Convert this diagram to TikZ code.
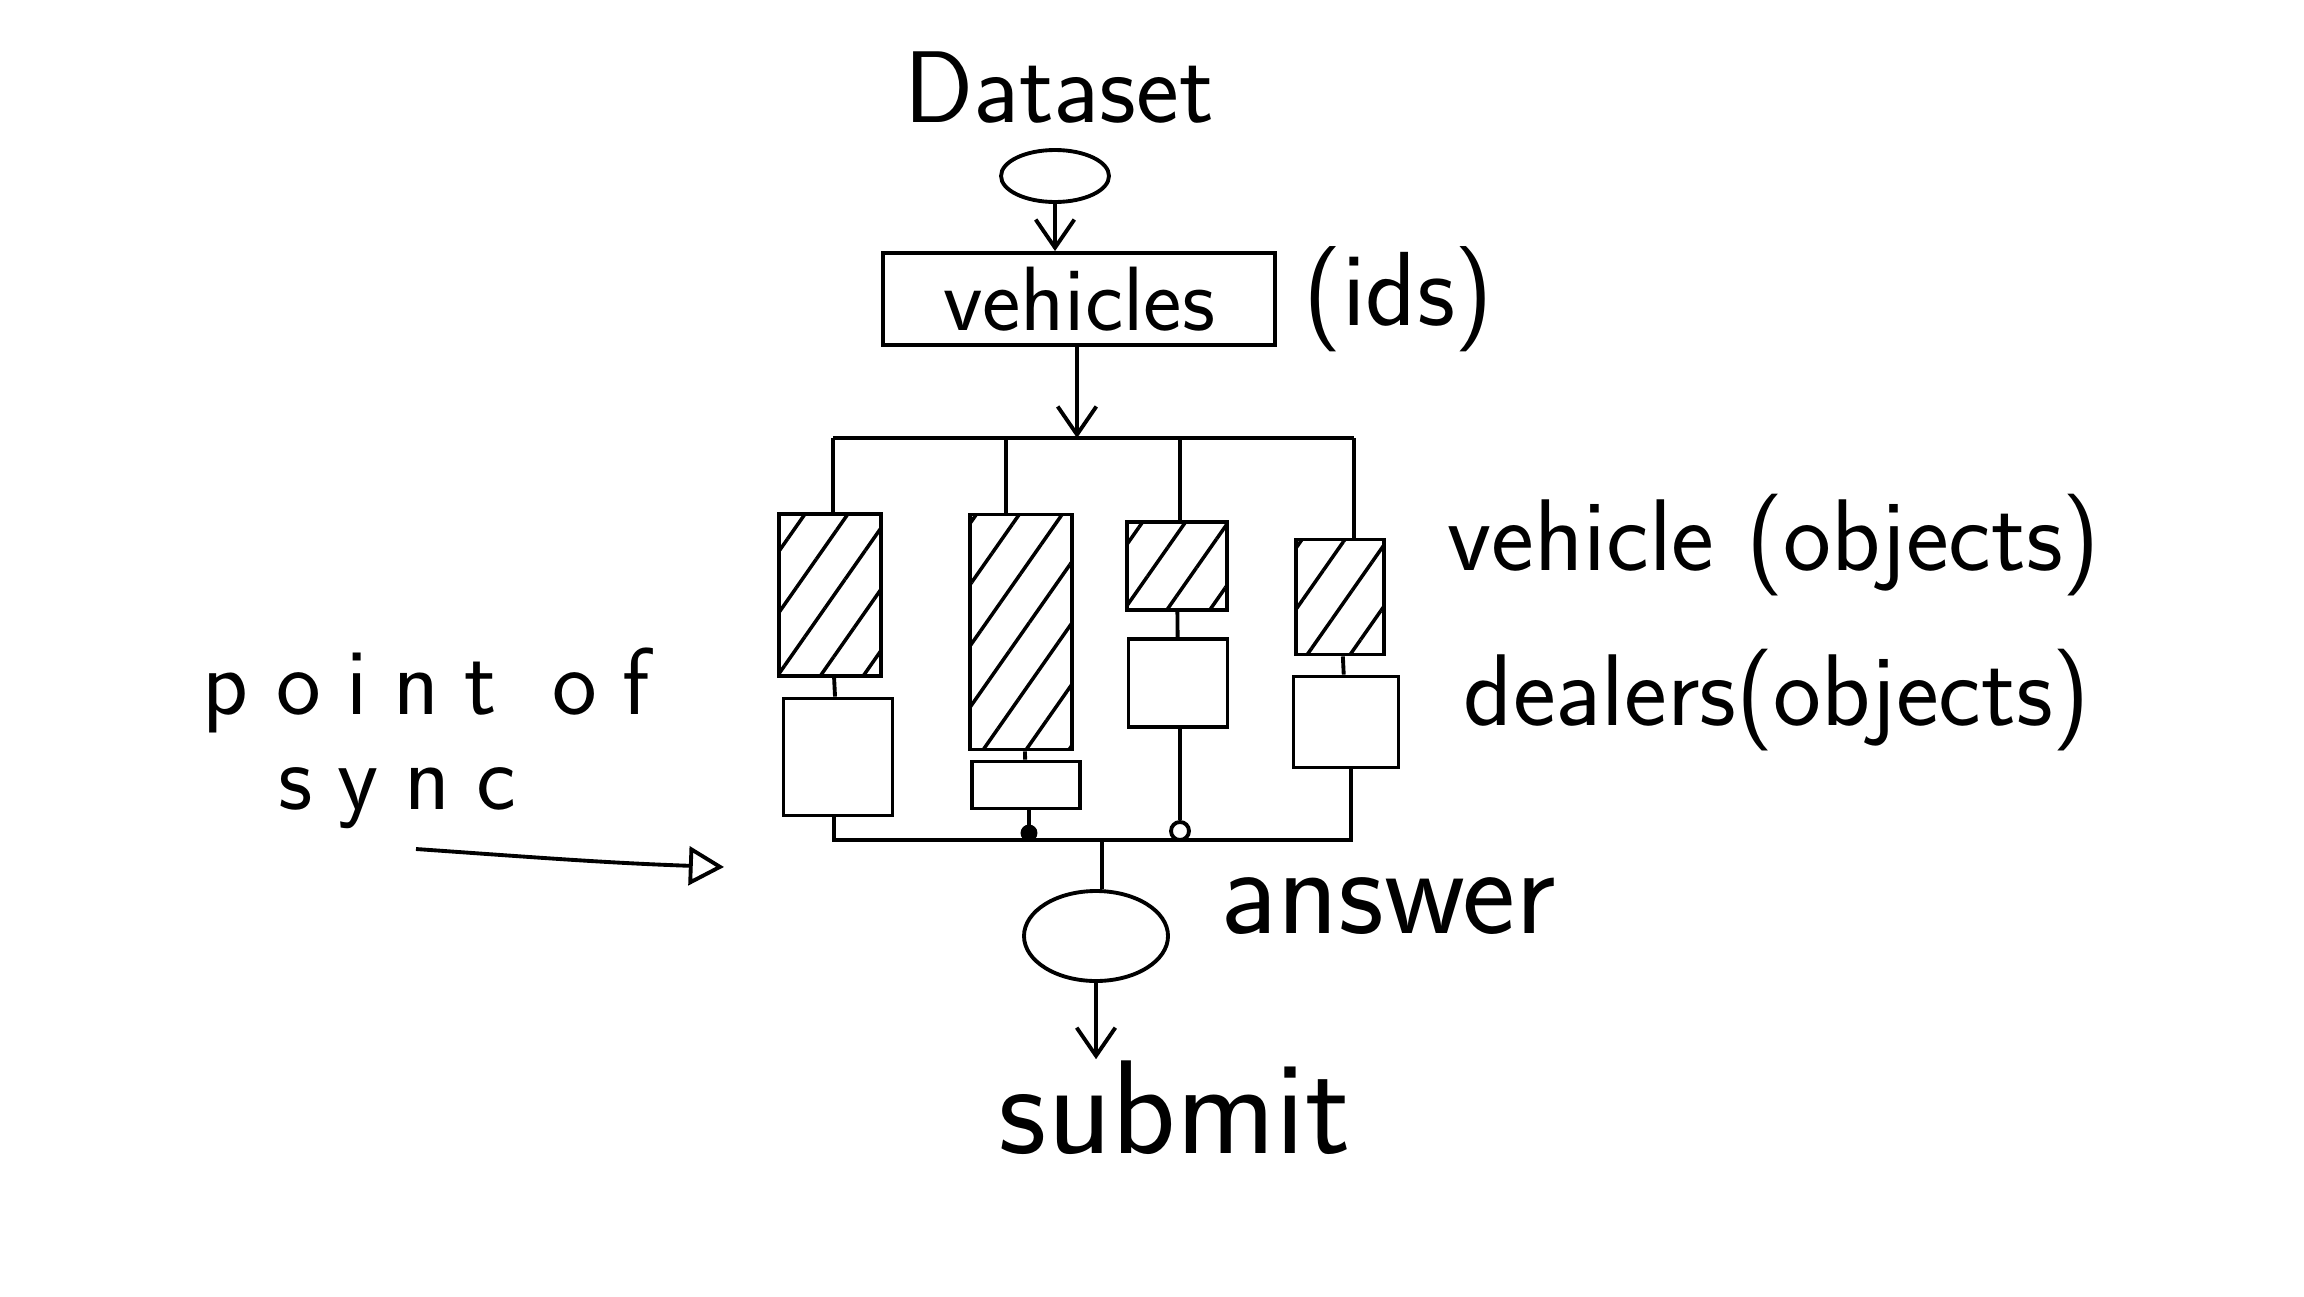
\documentclass[tikz,border=0pt]{standalone}
\usepackage{fontspec}
\usepackage{tikz}
\usetikzlibrary{positioning,shapes.geometric,patterns.meta,arrows.meta,calc}
\tikzstyle{oval}=[ellipse, draw, inner sep=0pt]
\tikzstyle{vbox}=[rectangle, draw, inner sep=0pt, pattern={Lines[angle=55,distance=10pt,line width=1pt]}]
\tikzstyle{dbox}=[rectangle, draw, inner sep=0pt]
\tikzstyle{knot}=[circle, draw, inner sep=0pt]
\newfontfamily\widesans[LetterSpace=27]{Latin Modern Sans}
\tikzset{hand/.style={font=\sffamily\fontsize{#1}{#1}\selectfont, inner sep=0pt}}
\tikzset{wide/.style={font=\widesans\fontsize{#1}{#1}\selectfont, inner sep=0pt}}

\begin{document}
\begin{tikzpicture}[line width=1.1pt, >={Straight Barb[length=8pt,width=11pt]}]
	\useasboundingbox (0,0) rectangle (23.04,-12.96);
	\node[hand=29] (ds) at (10.59,-0.88) {Dataset};
	\node[oval, minimum width=1.08cm, minimum height=0.52cm] (src) at (10.55,-1.76) {};
	\node[dbox, hand=26, minimum width=3.92cm, minimum height=0.92cm] (vs) at (10.79,-2.99) {vehicles};
	\node[hand=30, right=0.25cm of vs] (ids) {(ids)};
	\coordinate (t1) at (8.33,-4.38);
	\coordinate (t2) at (10.06,-4.38);
	\coordinate (tm) at (10.77,-4.38);
	\coordinate (t3) at (11.80,-4.38);
	\coordinate (t4) at (13.54,-4.38);
	\node[vbox, minimum width=1.02cm, minimum height=1.62cm] (v1) at (8.30,-5.95) {};
	\node[vbox, minimum width=1.02cm, minimum height=2.35cm] (v2) at (10.21,-6.32) {};
	\node[vbox, minimum width=1.00cm, minimum height=0.88cm] (v3) at (11.77,-5.66) {};
	\node[vbox, minimum width=0.88cm, minimum height=1.15cm] (v4) at (13.40,-5.97) {};
	\node[dbox, minimum width=1.09cm, minimum height=1.17cm] (d1) at (8.38,-7.57) {};
	\node[dbox, minimum width=1.08cm, minimum height=0.47cm] (d2) at (10.26,-7.85) {};
	\node[dbox, minimum width=0.99cm, minimum height=0.88cm] (d3) at (11.78,-6.83) {};
	\node[dbox, minimum width=1.05cm, minimum height=0.91cm] (d4) at (13.46,-7.22) {};
	\node[hand=29] (vo) at (17.74,-5.45) {vehicle (objects)};
	\node[hand=29] (do) at (17.77,-7.00) {dealers(objects)};
	\coordinate (b1) at (8.34,-8.40);
	\coordinate (b2) at (10.29,-8.40);
	\coordinate (bm) at (11.02,-8.40);
	\coordinate (b3) at (11.80,-8.40);
	\coordinate (b4) at (13.51,-8.40);
	\node[knot, fill, minimum size=0.13cm] (k2) at ($(b2)+(0,0.07)$) {};
	\node[knot, minimum size=0.18cm] (k3) at ($(b3)+(0,0.09)$) {};
	\node[oval, minimum width=1.44cm, minimum height=0.90cm] (ans) at (10.96,-9.36) {};
	\node[hand=36] (ansl) at (13.88,-9.06) {answer};
	\node[hand=38] (sub) at (11.75,-11.08) {submit};
	\node[wide=27] (pt) at (4.26,-6.90) {point of};
	\node[wide=27] (sy) at (3.97,-7.98) {sync};
	\coordinate (pa) at (4.16,-8.49);
	\coordinate (pb) at (7.24,-8.67);
	\draw[->] (src) -- (src |- vs.north);
	\draw[->] (vs.south -| tm) -- (tm);
	\draw (t1) -- (t4);
	\draw (t1) -- (t1 |- v1.north);
	\draw (t2) -- (t2 |- v2.north);
	\draw (t3) -- (t3 |- v3.north);
	\draw (t4) -- (t4 |- v4.north);
	\path[-]
	(v1) edge (d1)
	(v2) edge (d2)
	(v3) edge (d3)
	(v4) edge (d4);
	\draw (b1 |- d1.south) -- (b1) -- (b4) -- (b4 |- d4.south);
	\draw (b2 |- d2.south) -- (k2);
	\draw (b3 |- d3.south) -- (k3);
	\draw (bm) -- (bm |- ans.north);
	\draw[->] (ans.south) -- (ans.south |- sub.north);
	\draw[-{Triangle[open,length=10pt,width=11pt]}] (pa) to[out=-4,in=178] (pb);
\end{tikzpicture}
\end{document}
